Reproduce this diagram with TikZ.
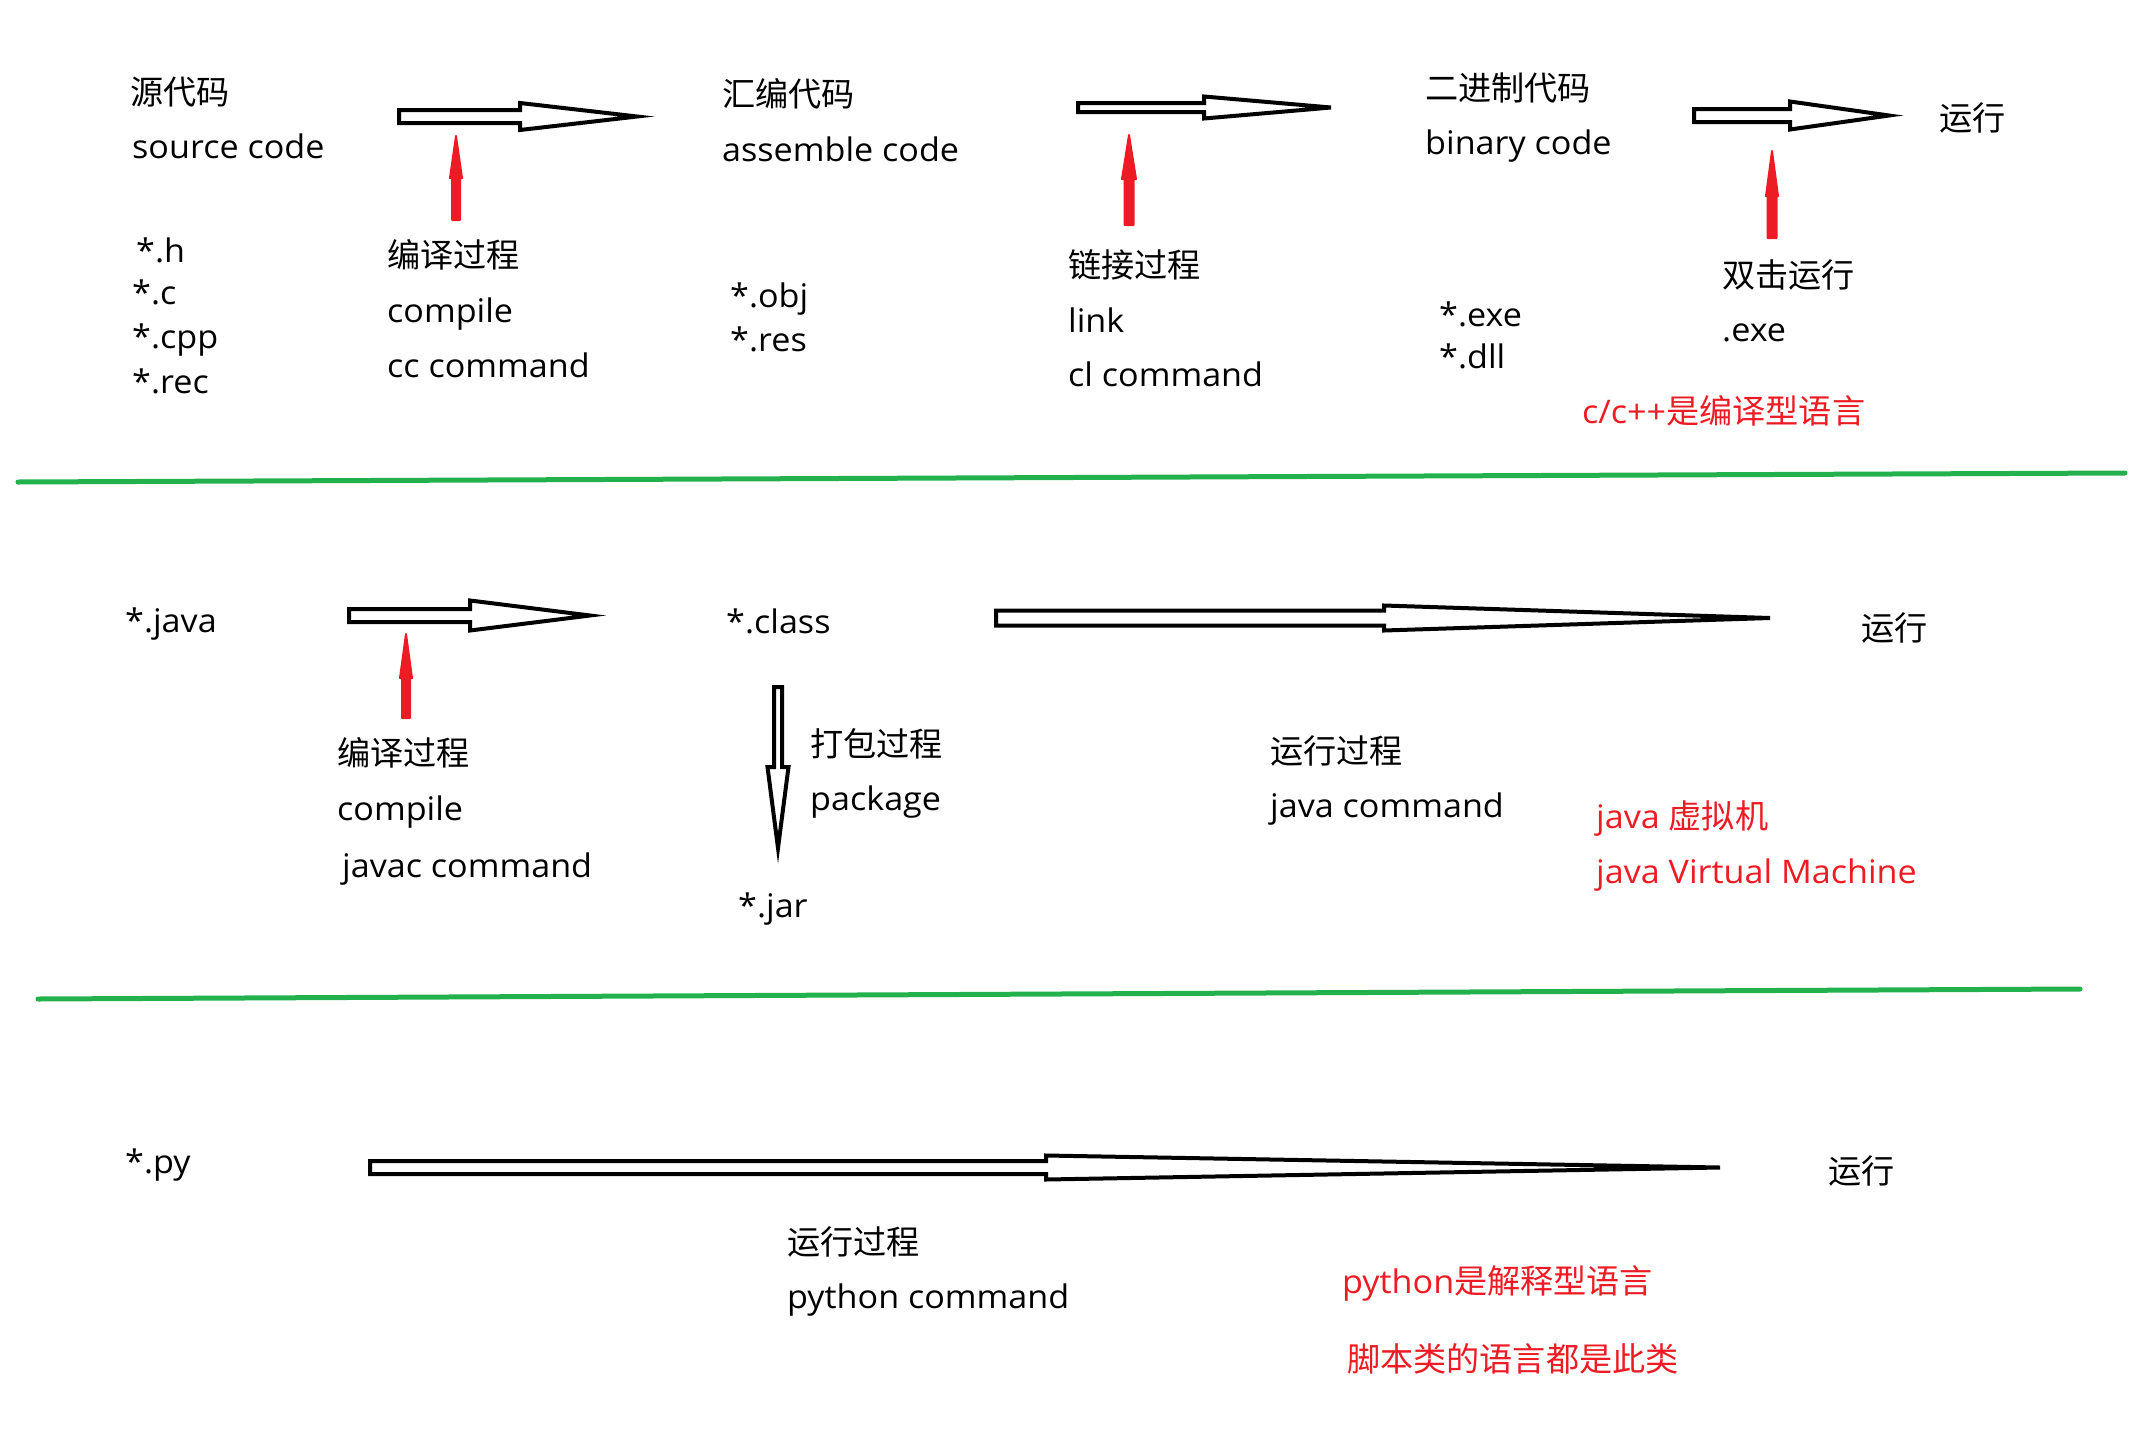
\documentclass[tikz,border=0pt]{standalone}
\usepackage{fontspec}
\setmainfont{Open Sans}[FakeStretch=1.05]
\newfontfamily\cjk{Noto Sans CJK SC}[Scale=1.02]
\newcommand{\zh}[1]{{\cjk #1}}
\usetikzlibrary{positioning}

\definecolor{paintred}{RGB}{237,28,36}
\definecolor{paintgreen}{RGB}{34,177,76}

% outlined arrow: start, angle, head start, tip, shaft half, head half
\newcommand{\paintarrow}[7][block arrow]{%
  \draw[#1, shift={(#2)}, rotate=#3]
    (0,-#6) -- (#4,-#6) -- (#4,-#7) -- (#5,0) -- (#4,#7) -- (#4,#6) -- (0,#6) -- cycle;}

\begin{document}
\begin{tikzpicture}[
  x=1pt, y=-1pt,
  txt/.style={
    anchor=west,
    inner sep=0pt,
    text height=26pt,
    text depth=4pt,
    font=\fontsize{32.5}{38}\selectfont
  },
  note/.style={
    txt,
    text=paintred
  },
  block arrow/.style={
    draw=black,
    fill=white,
    line width=4pt
  },
  red arrow/.style={
    draw=paintred,
    fill=paintred,
    line width=2pt,
    line join=round
  },
  divider/.style={
    draw=paintgreen,
    line width=5pt,
    line cap=round
  }
]
\useasboundingbox (0,0) rectangle (2139,1448);

% --- C / C++ row
\node[txt] (srczh) at (130, 93) {\zh{源代码}};
\node[txt] (srcen) at (132,147) {source code};
\node[txt] (h) at (136,251) {*.h};
\node[txt] (c) at (132,293) {*.c};
\node[txt] (cpp) at (132,337) {*.cpp};
\node[txt] (rec) at (132,382) {*.rec};

\node[txt] (compzh) at (387,256) {\zh{编译过程}};
\node[txt] (compen) at (387,311) {compile};
\node[txt] (cccmd) at (387,366) {cc command};

\node[txt] (asmzh) at (722, 95) {\zh{汇编代码}};
\node[txt] (asmen) at (722,150) {assemble code};
\node[txt] (obj) at (730,296) {*.obj};
\node[txt] (res) at (730,340) {*.res};

\node[txt] (linkzh) at (1068,266) {\zh{链接过程}};
\node[txt] (linken) at (1068,321) {link};
\node[txt] (clcmd) at (1068,375) {cl command};

\node[txt] (binzh) at (1425, 89) {\zh{二进制代码}};
\node[txt] (binen) at (1425,143) {binary code};
\node[txt] (exe) at (1439,315) {*.exe};
\node[txt] (dll) at (1439,357) {*.dll};

\node[txt] (runc) at (1939,119) {\zh{运行}};
\node[txt] (dblzh) at (1722,276) {\zh{双击运行}};
\node[txt] (dblen) at (1722,330) {.exe};
\node[note] (cnote) at (1582,412) {c/c++\zh{是编译型语言}};

\coordinate (compile tail) at (399,116.5);
\coordinate (link tail) at (1078,107.5);
\coordinate (exec tail) at (1694,115.5);
\paintarrow{compile tail}{0}{121}{238}{6.5}{13.5}
\paintarrow{link tail}{0}{126}{253}{4.5}{11}
\paintarrow{exec tail}{0}{96}{195}{6.5}{14}

\coordinate (compile mark) at (456,220);
\coordinate (link mark) at (1129,225);
\coordinate (exec mark) at (1772,238);
\paintarrow[red arrow]{compile mark}{90}{42}{84}{4}{6}
\paintarrow[red arrow]{link mark}{90}{46}{90}{4.5}{7}
\paintarrow[red arrow]{exec mark}{90}{42}{87}{4.5}{6}

\draw[divider] (18,482) -- (2125,473);

% --- Java row
\node[txt] (java) at (125,621) {*.java};
\node[txt] (jcompzh) at (337,754) {\zh{编译过程}};
\node[txt] (jcompen) at (337,809) {compile};
\node[txt] (javac) at (342,866) {javac command};

\node[txt] (class) at (726,622) {*.class};
\node[txt] (packzh) at (810,745) {\zh{打包过程}};
\node[txt] (packen) at (810,799) {package};
\node[txt] (jar) at (738,906) {*.jar};

\node[txt] (jrunzh) at (1270,752) {\zh{运行过程}};
\node[txt] (jrunen) at (1270,806) {java command};
\node[txt] (runj) at (1861,629) {\zh{运行}};
\node[note] (jvmzh) at (1596,817) {java \zh{虚拟机}};
\node[note] (jvmen) at (1596,872) {java Virtual Machine};

\coordinate (javac tail) at (349,615.5);
\coordinate (java tail) at (996,618);
\coordinate (jar tail) at (778,687);
\paintarrow{javac tail}{0}{121}{241}{6.5}{15}
\paintarrow{java tail}{0}{388}{774}{7.5}{12.5}
\paintarrow{jar tail}{-90}{80}{161}{4}{10.5}

\coordinate (javac mark) at (406,718);
\paintarrow[red arrow]{javac mark}{90}{40}{84}{4}{6}

\draw[divider] (38,999) -- (2080,989);

% --- Python row
\node[txt] (py) at (125,1162) {*.py};
\node[txt] (prunzh) at (787,1243) {\zh{运行过程}};
\node[txt] (prunen) at (787,1297) {python command};
\node[txt] (runp) at (1828,1172) {\zh{运行}};
\node[note] (pnote) at (1342,1282) {python\zh{是解释型语言}};
\node[note] (snote) at (1347,1360) {\zh{脚本类的语言都是此类}};

\coordinate (python tail) at (370,1167.5);
\paintarrow{python tail}{0}{676}{1350}{6.5}{12}

\end{tikzpicture}
\end{document}
